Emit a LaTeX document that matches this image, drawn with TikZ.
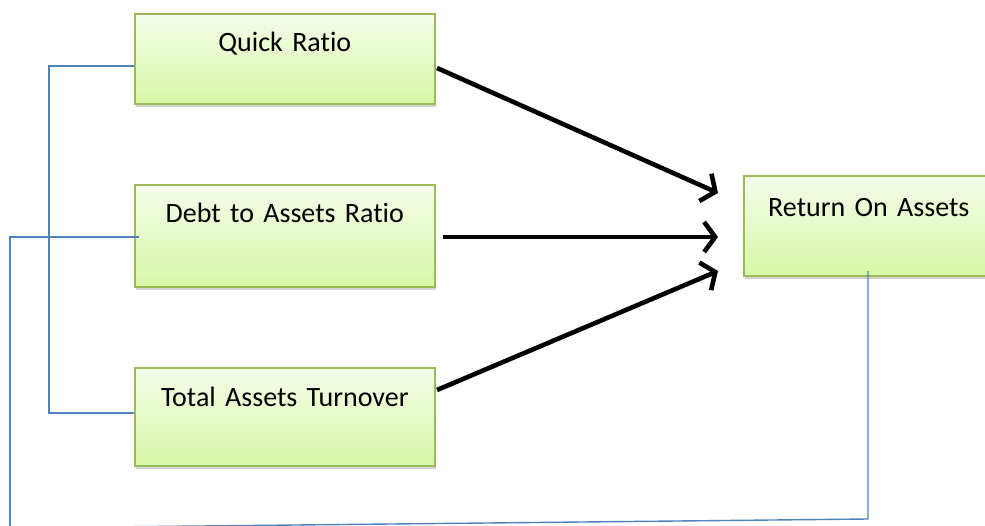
\documentclass[tikz,border=0pt]{standalone}
\usepackage{fontspec}
\setmainfont{Carlito}[Ligatures=CommonOff]
\usetikzlibrary{arrows.meta,shadows}
\definecolor{boxtop}{HTML}{F4FCEA}
\definecolor{boxbot}{HTML}{D7F8A6}
\definecolor{boxline}{HTML}{9BBB59}
\definecolor{linkblue}{HTML}{4F81BD}
\tikzset{
  factor/.style={draw=boxline, line width=1.6pt, top color=boxtop, bottom color=boxbot,
    inner sep=0pt, text width=#1, align=center, font=\fontsize{28}{32}\selectfont,
    drop shadow={shadow xshift=1pt, shadow yshift=-3pt, opacity=0.35}},
  link/.style={draw=linkblue, line width=1.4pt},
  bigarrow/.style={draw=black, line width=4.6pt, -{Straight Barb[length=11pt,width=30pt,line width=4.6pt]}}
}
\begin{document}
\begin{tikzpicture}[x=1pt,y=-1pt]
\path[use as bounding box, clip] (0,0) rectangle (985,526);
\node[factor=300pt, text height=38pt, text depth=52pt, anchor=north west] (qr) at (134,13) {Quick Ratio};
\node[factor=300pt, text height=38pt, text depth=64pt, anchor=north west] (da) at (134,184) {Debt to Assets Ratio};
\node[factor=300pt, text height=39pt, text depth=59pt, anchor=north west] (ta) at (134,367) {Total Assets Turnover};
\node[factor=250pt, text height=41pt, text depth=59pt, anchor=north west] (roa) at (743,175) {Return On Assets};
% blue links
\coordinate (qrl) at (134,66);
\coordinate (tal) at (134,413);
\coordinate (dal) at (139,237);
\coordinate (roab) at (868,271);
\coordinate (bl) at (10,528);
\draw[link] (qrl) -- (49,66) -- (49,413) -- (tal);
\draw[link] (dal) -- (10,237) -- (10,530);
\draw[link] (roab) -- (868,519) -- (bl);
% arrows
\coordinate (t1) at (718,193);
\coordinate (t2) at (718,237);
\coordinate (t3) at (718,271);
\draw[bigarrow] (437,68) -- (t1);
\draw[bigarrow] (443,237) -- (t2);
\draw[bigarrow] (437,390) -- (t3);
\end{tikzpicture}
\end{document}
